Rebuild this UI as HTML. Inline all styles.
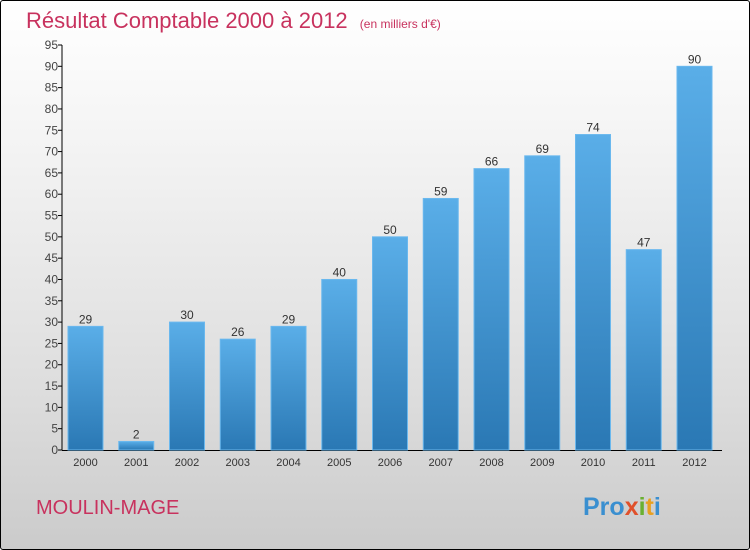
<!DOCTYPE html>
<html><head><meta charset="utf-8"><style>
html,body{margin:0;padding:0}
body{width:750px;height:550px;overflow:hidden;font-family:"Liberation Sans",sans-serif}
#frame{position:absolute;left:0;top:0;width:748px;height:548px;border:1px solid #000;border-radius:3px;background:linear-gradient(#ffffff,#f4f4f4 25%,#dedede 70%,#cbcbcb)}
</style></head><body>
<div id="frame">
<svg id="chart" width="750" height="550" style="position:absolute;left:-1px;top:-1px">
<defs>
<linearGradient id="bg" x1="0" y1="0" x2="0" y2="1"><stop offset="0" stop-color="#5aaee8"/><stop offset="1" stop-color="#2a78b4"/></linearGradient>
</defs>
<text x="26" y="28" font-size="22" fill="#c8325e">Résultat Comptable 2000 à 2012 <tspan font-size="12" dx="6">(en milliers d'€)</tspan></text>
<text x="36" y="514" font-size="20" fill="#c8325e">MOULIN-MAGE</text>
<text x="583" y="515" font-size="25" font-weight="bold"><tspan fill="#3a8fd0">Pro</tspan><tspan fill="#e0502a">x</tspan><tspan fill="#6ab030">i</tspan><tspan fill="#e8a020">t</tspan><tspan fill="#3a8fd0">i</tspan></text>
<g id="plot"></g>
</svg>
</div>
<script>
const categories=["2000","2001","2002","2003","2004","2005","2006","2007","2008","2009","2010","2011","2012"];
const values=[29,2,30,26,29,40,50,59,66,69,74,47,90];
const yTicks=[0,5,10,15,20,25,30,35,40,45,50,55,60,65,70,75,80,85,90,95];
const NS="http://www.w3.org/2000/svg";
const g=document.getElementById('plot');
const y0=450,yTop=45,yMax=95,axisX=62,x0=85.5,step=50.75,bw=35;
const y=v=>y0-(v/yMax)*(y0-yTop);
const x=i=>x0+i*step;
function mk(t,a){const e=document.createElementNS(NS,t);for(const k in a)e.setAttribute(k,a[k]);g.appendChild(e);return e;}
let e=mk('line',{x1:axisX,y1:yTop,x2:axisX,y2:y0,stroke:'#000'});


e=mk('line',{x1:axisX,y1:y0+0.5,x2:722,y2:y0+0.5,stroke:'#000'});


yTicks.forEach(t=>{
  const tk=mk('line',{x1:axisX-4,y1:y(t),x2:axisX,y2:y(t),stroke:'#000'});
  
  
  const l=mk('text',{x:axisX-4,y:y(t)+4,'font-size':12,'text-anchor':'end',fill:'#444'});
  l.textContent=t;
  
  
});
categories.forEach((c,i)=>{
  const v=values[i];
  const r=mk('rect',{x:x(i)-bw/2,y:y(v),width:bw,height:y0-y(v),fill:'url(#bg)',stroke:'#6ab8ee','stroke-width':1});
  
  
  const vl=mk('text',{x:x(i),y:y(v)-3,'font-size':12,'text-anchor':'middle',fill:'#333'});
  vl.textContent=v;
  
  
  const xl=mk('text',{x:x(i),y:466,'font-size':11,'text-anchor':'middle',fill:'#333'});
  xl.textContent=c;
  
  
});
</script>
</body></html>
